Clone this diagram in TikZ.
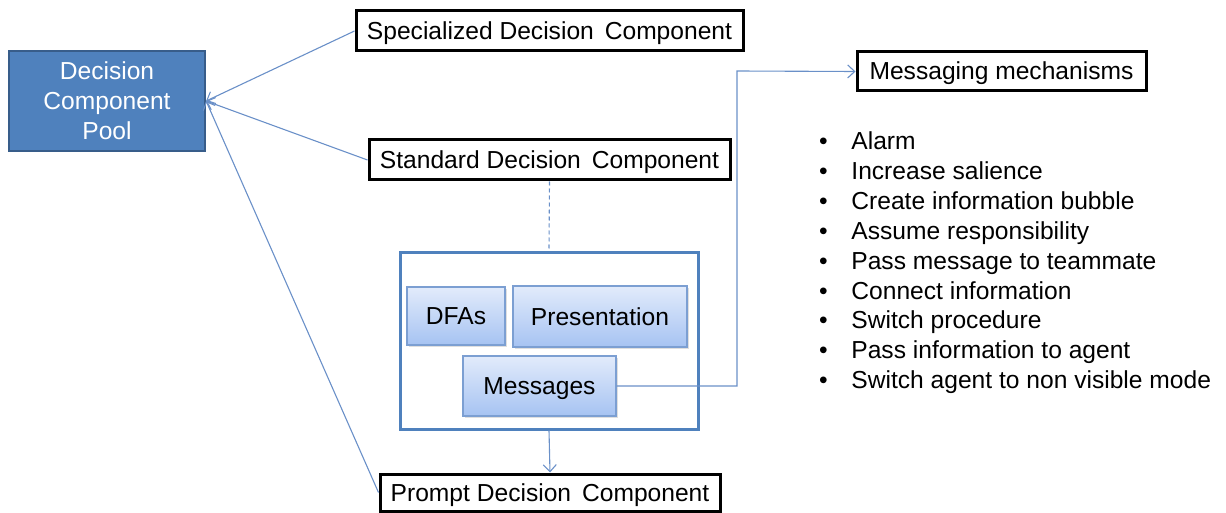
\documentclass[tikz,border=0pt]{standalone}
\usepackage{fontspec}
\setmainfont{Liberation Sans}
\usetikzlibrary{arrows.meta,shadows}
\definecolor{poolfill}{HTML}{4F81BD}
\definecolor{pooldraw}{HTML}{385D8A}
\definecolor{linkblue}{HTML}{6A90C8}
\definecolor{innertop}{HTML}{E2EBFB}
\definecolor{innerbot}{HTML}{A6C3F2}
\definecolor{innerdraw}{HTML}{7C9FD2}
\tikzset{
  x=1pt,y=-1pt,
  every node/.style={font=\fontsize{24.6}{30}\selectfont, inner sep=0pt},
  labelbox/.style={draw=black, line width=3pt, fill=white, text height=20pt, text depth=3pt},
  poolbox/.style={draw=pooldraw, line width=2.2pt, fill=poolfill, text=white, align=center},
  container/.style={draw=poolfill, line width=3pt, fill=white},
  innerbox/.style={draw=innerdraw, line width=1.2pt, top color=innertop, bottom color=innerbot,
     text height=20pt, text depth=3pt, drop shadow={shadow xshift=1.5pt, shadow yshift=-1.5pt, opacity=0.25}},
  link/.style={draw=linkblue, line width=1.1pt},
  linkarrow/.style={link, -{Straight Barb[length=7pt,width=13pt]}},
}
\begin{document}
\begin{tikzpicture}
\useasboundingbox (0,0) rectangle (1226,513);
\node[poolbox, minimum width=196pt, minimum height=100pt] (pool) at (107,101) {Decision\\Component\\Pool};
\node[labelbox, minimum width=387pt, minimum height=40pt] (spec) at (549.5,31) {Specialized Decision\, Component};
\node[labelbox, minimum width=361pt, minimum height=40pt] (std) at (549.5,160) {Standard Decision\, Component};
\node[labelbox, minimum width=289pt, minimum height=39pt] (msgm) at (1001.5,71.5) {Messaging mechanisms};
\node[labelbox, minimum width=340pt, minimum height=37pt] (prompt) at (550,492.5) {Prompt Decision\, Component};
\node[container, minimum width=298pt, minimum height=177pt] (cont) at (549,340.5) {};
\node[innerbox, minimum width=98pt, minimum height=58pt] (dfa) at (456,316) {DFAs};
\node[innerbox, minimum width=174pt, minimum height=61pt] (pres) at (600,316.5) {Presentation};
\node[innerbox, minimum width=153pt, minimum height=60pt] (msgs) at (539.5,386) {Messages};
\node[anchor=west, font=\fontsize{24.6}{29.9}\selectfont] (list) at (819,263.2) {%
\begin{tabular}{@{}l@{\hspace{23.6pt}}l@{}}
\textbullet & Alarm\\
\textbullet & Increase salience\\
\textbullet & Create information bubble\\
\textbullet & Assume responsibility\\
\textbullet & Pass message to teammate\\
\textbullet & Connect information\\
\textbullet & Switch procedure\\
\textbullet & Pass information to agent\\
\textbullet & Switch agent to non visible mode
\end{tabular}};
\coordinate (poolin) at (pool.east);
\draw[linkarrow] (spec.west) -- (poolin);
\draw[linkarrow] (std.west) -- (poolin);
\draw[linkarrow] (prompt.west) -- (poolin);
\draw[link, dashed, dash pattern=on 4pt off 3pt] (std.south) -- (cont.north);
\draw[linkarrow] (cont.south) -- (prompt.north);
\coordinate (bend1) at (737,386);
\coordinate (bend2) at (737,71);
\draw[linkarrow] (msgs.east) -- (bend1) -- (bend2) -- (msgm.west);
\end{tikzpicture}
\end{document}
